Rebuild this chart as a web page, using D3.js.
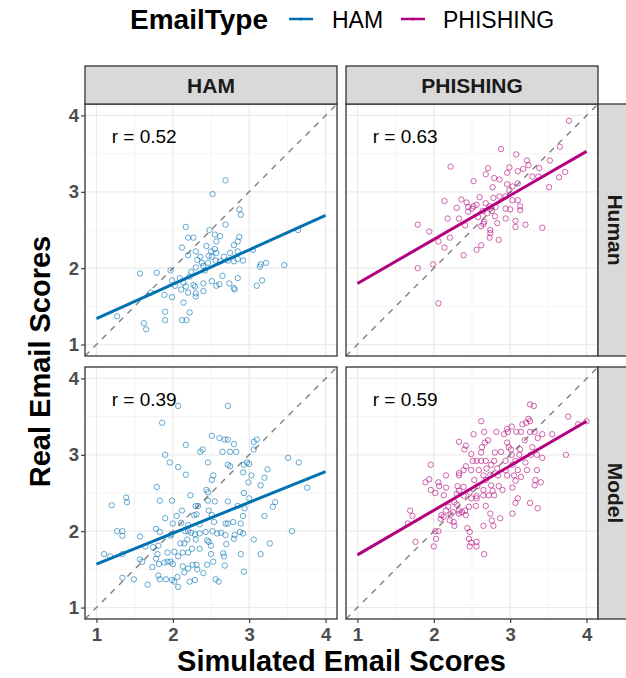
<!DOCTYPE html>
<html>
<head>
<meta charset="utf-8">
<script src="https://cdn.jsdelivr.net/npm/d3@7"></script>
<style>
  body { margin: 0; background: #fff; }
  svg { font-family: "Liberation Sans", Arial, sans-serif; }
</style>
</head>
<body>
<div id="vis"></div>
<script>
// facets
const emailTypes = ["HAM", "PHISHING"]
const sources = ["Human", "Model"]
const typeColors = ["#0072B2", "#B4007D"]
const ticks = [1, 2, 3, 4]
const rLabels = [["r = 0.52", "r = 0.63"], ["r = 0.39", "r = 0.59"]]

// fitted lines read at x = 1 and x = 4  [y at 1, y at 4]
const fitHamHuman = [1.34, 2.69]
const fitPhishHuman = [1.80, 3.53]
const fitHamModel = [1.57, 2.78]
const fitPhishModel = [1.69, 3.44]

// [simulated, real]
const hamHuman = [
  [2.69,3.15],[2.52,2.97],[2.87,2.77],[2.89,2.70],[2.69,2.57],[2.17,2.54],[2.48,2.50],[2.55,2.44],
  [2.62,2.42],[2.20,2.40],[2.27,2.40],[2.87,2.41],[2.85,2.35],[2.57,2.35],[2.12,2.27],[2.44,2.29],
  [2.80,2.30],[2.30,2.22],[2.20,2.17],[2.50,2.22],[2.57,2.20],[2.47,2.16],[2.51,2.15],[2.67,2.15],
  [2.75,2.20],[2.85,2.22],[3.05,2.24],[2.32,2.11],[2.38,2.07],[2.46,2.07],[2.56,2.10],[2.62,2.09],
  [2.72,2.10],[2.80,2.09],[2.92,2.10],[2.85,2.12],[2.30,2.01],[2.40,2.03],[2.42,1.97],[3.22,2.07],
  [3.15,2.05],[3.14,2.02],[3.46,2.04],[3.64,2.50],[1.57,1.93],[1.79,1.94],[1.97,1.97],[2.24,1.95],
  [2.22,1.89],[1.99,1.84],[2.09,1.87],[2.14,1.81],[2.03,1.77],[2.11,1.72],[2.17,1.76],[2.20,1.68],
  [2.27,1.78],[2.29,1.76],[2.30,1.67],[2.30,1.63],[2.40,1.80],[2.40,1.70],[2.51,1.83],[2.57,1.77],
  [2.61,1.79],[2.65,1.90],[2.74,1.80],[2.80,1.74],[2.81,1.72],[2.85,1.87],[3.10,1.77],[3.17,1.84],
  [1.71,1.68],[1.89,1.65],[1.99,1.62],[2.14,1.55],[1.90,1.43],[1.90,1.32],[2.22,1.42],[2.12,1.32],
  [2.18,1.32],[1.27,1.37],[1.62,1.28],[1.65,1.20],[2.55,2.25],[2.36,2.15]
]

const phishHuman = [
  [3.77,3.93],[2.88,3.56],[3.08,3.49],[3.22,3.41],[3.52,3.41],[3.65,3.59],[2.22,3.33],[2.71,3.31],
  [2.99,3.32],[3.17,3.30],[3.24,3.35],[3.38,3.31],[3.72,3.26],[3.64,3.19],[2.68,3.23],[2.96,3.25],
  [3.10,3.27],[3.29,3.20],[3.37,3.20],[2.79,3.18],[2.86,3.16],[2.52,3.14],[2.96,3.10],[3.03,3.07],
  [3.10,3.11],[2.77,3.06],[3.51,3.06],[2.99,3.02],[2.14,2.88],[2.36,2.90],[2.43,2.86],[2.60,2.93],
  [2.78,2.92],[2.86,2.94],[2.94,2.94],[3.03,2.89],[3.10,2.89],[2.30,2.79],[2.45,2.80],[2.52,2.81],
  [2.56,2.83],[2.68,2.85],[2.73,2.81],[2.81,2.80],[2.94,2.78],[3.00,2.77],[3.13,2.81],[3.13,2.76],
  [2.45,2.74],[2.64,2.75],[2.76,2.75],[2.80,2.68],[2.58,2.67],[2.18,2.65],[2.33,2.65],[2.94,2.65],
  [3.07,2.62],[2.66,2.61],[2.83,2.59],[2.41,2.56],[2.62,2.55],[2.65,2.58],[3.07,2.54],[3.20,2.57],
  [3.42,2.53],[1.79,2.57],[2.74,2.50],[1.94,2.48],[2.74,2.46],[2.73,2.40],[2.21,2.40],[2.85,2.37],
  [2.06,2.35],[2.14,2.27],[2.62,2.30],[2.56,2.24],[2.39,2.17],[1.99,2.05],[1.79,2.00],[2.06,1.54],
  [2.70,2.72],[2.50,2.78]
]

const hamModel = [
  [2.72,3.64],[2.07,3.64],[1.86,3.42],[2.51,3.25],[2.61,3.22],[2.68,3.20],[2.72,3.20],[2.80,3.14],
  [3.10,3.20],[3.06,3.17],[2.17,3.13],[2.36,3.04],[2.39,3.07],[2.65,3.04],[2.75,3.04],[2.83,3.04],
  [3.06,3.07],[1.90,3.00],[1.96,2.90],[2.46,2.90],[2.07,2.84],[2.72,2.87],[2.75,2.85],[2.97,2.90],
  [3.00,2.88],[2.93,2.87],[2.92,2.77],[3.51,2.96],[3.65,2.90],[3.24,2.81],[2.17,2.74],[2.53,2.73],
  [3.03,2.73],[3.20,2.70],[2.51,2.67],[2.99,2.64],[3.15,2.60],[1.79,2.58],[2.44,2.54],[2.46,2.51],
  [3.76,2.57],[2.23,2.47],[2.93,2.50],[1.83,2.40],[1.99,2.40],[2.46,2.40],[2.55,2.39],[2.72,2.39],
  [3.00,2.43],[3.34,2.38],[3.31,2.32],[1.39,2.44],[1.40,2.38],[1.20,2.34],[2.12,2.27],[2.30,2.33],
  [2.33,2.33],[2.47,2.27],[2.85,2.33],[2.94,2.30],[2.05,2.20],[2.28,2.21],[2.31,2.22],[2.51,2.21],
  [2.92,2.20],[3.20,2.20],[1.90,2.17],[2.11,2.11],[2.35,2.09],[2.54,2.12],[2.69,2.10],[2.72,2.10],
  [2.79,2.12],[2.89,2.10],[2.20,2.08],[2.00,2.10],[1.78,2.03],[1.27,2.00],[1.34,2.00],[1.34,1.94],
  [1.83,1.99],[1.98,1.96],[2.16,2.00],[2.20,2.00],[2.24,1.98],[2.29,1.96],[2.35,1.97],[2.43,1.99],
  [2.52,2.00],[2.58,1.97],[2.63,1.98],[2.69,1.95],[2.81,1.95],[2.88,1.99],[2.92,1.97],[2.80,1.90],
  [3.56,2.00],[1.57,1.93],[1.97,1.94],[2.19,1.89],[2.30,1.89],[2.45,1.88],[2.47,1.86],[2.70,1.83],
  [3.06,1.89],[3.27,1.84],[1.64,1.80],[1.74,1.79],[1.81,1.81],[2.10,1.84],[2.15,1.84],[2.25,1.77],
  [2.35,1.77],[2.50,1.81],[1.10,1.70],[1.18,1.67],[1.34,1.70],[1.80,1.70],[1.93,1.72],[2.02,1.73],
  [2.07,1.67],[2.13,1.72],[2.20,1.72],[2.50,1.70],[2.66,1.71],[2.67,1.67],[2.89,1.70],[3.15,1.70],
  [1.57,1.63],[1.60,1.60],[1.78,1.64],[1.89,1.59],[1.93,1.60],[1.97,1.60],[2.00,1.57],[1.82,1.57],
  [1.73,1.53],[2.13,1.54],[2.20,1.51],[2.26,1.56],[2.31,1.56],[2.32,1.50],[2.45,1.56],[2.53,1.60],
  [2.68,1.55],[2.93,1.47],[1.34,1.39],[1.49,1.37],[1.81,1.42],[1.83,1.37],[1.91,1.37],[1.99,1.36],
  [2.06,1.40],[2.15,1.46],[2.22,1.34],[2.29,1.36],[1.67,1.30],[2.02,1.34],[2.07,1.27],[2.56,1.37],
  [2.60,1.34],[2.40,1.45]
]

const phishModel = [
  [3.26,3.66],[3.31,3.64],[3.24,3.47],[3.26,3.44],[3.21,3.42],[3.16,3.40],[3.76,3.50],[3.89,3.40],
  [4.00,3.44],[2.62,3.44],[3.02,3.37],[2.96,3.34],[2.66,3.30],[2.82,3.30],[2.52,3.27],[2.92,3.27],
  [2.97,3.30],[3.08,3.30],[3.14,3.30],[3.26,3.30],[3.32,3.30],[3.42,3.27],[3.55,3.27],[3.36,3.22],
  [2.71,3.19],[2.67,3.16],[2.33,3.17],[2.96,3.16],[3.19,3.19],[2.40,3.07],[2.42,3.12],[2.63,3.10],
  [2.98,3.10],[3.01,3.07],[3.13,3.07],[3.29,3.10],[2.49,3.01],[2.62,3.03],[2.80,3.03],[2.88,3.04],
  [3.02,3.00],[3.12,3.00],[3.27,3.00],[3.35,3.00],[3.73,3.00],[2.51,2.92],[2.56,2.92],[2.62,2.92],
  [2.68,2.92],[2.79,2.92],[2.94,2.92],[3.07,2.92],[3.42,2.96],[1.96,2.87],[2.75,2.87],[3.03,2.87],
  [3.20,2.90],[2.42,2.85],[2.39,2.80],[2.49,2.80],[2.59,2.80],[2.69,2.82],[2.83,2.82],[2.94,2.80],
  [3.10,2.80],[3.22,2.80],[3.35,2.80],[2.33,2.76],[2.16,2.73],[2.33,2.73],[2.65,2.73],[2.74,2.74],
  [2.84,2.73],[2.96,2.73],[3.05,2.73],[3.14,2.71],[1.94,2.68],[2.53,2.67],[2.68,2.67],[3.07,2.66],
  [3.33,2.67],[3.40,2.64],[1.89,2.64],[2.06,2.64],[2.07,2.59],[2.16,2.57],[2.31,2.59],[2.39,2.58],
  [2.57,2.59],[2.75,2.60],[2.85,2.59],[3.03,2.57],[3.32,2.60],[1.96,2.54],[2.33,2.53],[2.65,2.54],
  [2.77,2.53],[2.90,2.54],[2.02,2.50],[2.13,2.47],[2.30,2.49],[2.39,2.47],[2.47,2.51],[2.56,2.46],
  [2.65,2.47],[2.72,2.47],[2.79,2.47],[2.27,2.38],[2.49,2.43],[2.56,2.43],[3.10,2.43],[3.07,2.37],
  [3.26,2.37],[3.36,2.30],[2.19,2.32],[2.30,2.35],[2.46,2.32],[2.55,2.33],[2.68,2.33],[2.16,2.27],
  [2.25,2.25],[2.33,2.27],[2.37,2.25],[2.41,2.27],[2.10,2.21],[2.22,2.22],[2.33,2.23],[2.42,2.21],
  [2.74,2.23],[3.03,2.23],[1.69,2.27],[1.72,2.20],[1.66,2.10],[2.13,2.19],[2.09,2.16],[2.21,2.14],
  [2.26,2.12],[2.27,2.07],[2.76,2.14],[2.87,2.17],[2.78,2.07],[2.65,2.07],[2.44,2.04],[2.02,2.00],
  [2.06,2.00],[2.47,1.99],[2.03,1.90],[2.46,1.90],[2.49,1.85],[2.56,1.86],[1.76,1.86],[2.00,1.80],
  [2.47,1.80],[2.56,1.80],[2.66,1.70]
]

const panelPoints = [[hamHuman, phishHuman], [hamModel, phishModel]]
const panelFits = [[fitHamHuman, fitPhishHuman], [fitHamModel, fitPhishModel]]

const W = 626, H = 678
const colX = [85, 346]
const rowY = [104, 367]
const panelSize = 252
const stripH = 38
const domain = [0.85, 4.15]

const svg = d3.select("#vis").append("svg")
  .attr("width", W).attr("height", H)

// legend
const legend = svg.append("g")
legend.append("text")
  .attr("x", 130).attr("y", 29)
  .attr("font-size", 28).attr("font-weight", "bold")
  .attr("fill", "#000")
  .text("EmailType")
const legendItems = [
  {name: "HAM", lx: 289, tx: 332},
  {name: "PHISHING", lx: 401, tx: 443}
]
legendItems.forEach((d, i) => {
  legend.append("line")
    .attr("x1", d.lx).attr("x2", d.lx + 24)
    .attr("y1", 19).attr("y2", 19)
    .attr("stroke", typeColors[i]).attr("stroke-width", 2.5)
  legend.append("circle")
    .attr("cx", d.lx + 12).attr("cy", 19).attr("r", 1.6)
    .attr("fill", typeColors[i])
  legend.append("text")
    .attr("x", d.tx).attr("y", 28)
    .attr("font-size", 23).attr("fill", "#000")
    .text(d.name)
})

const x = d3.scaleLinear().domain(domain)
const y = d3.scaleLinear().domain(domain)

sources.forEach((src, r) => {
  emailTypes.forEach((type, c) => {
    const px = colX[c], py = rowY[r]
    const xs = x.copy().range([px, px + panelSize])
    const ys = y.copy().range([py + panelSize, py])
    const g = svg.append("g")
    const clipId = "clip" + r + c
    svg.append("clipPath").attr("id", clipId)
      .append("rect").attr("x", px).attr("y", py)
      .attr("width", panelSize).attr("height", panelSize)

    // grid
    const minor = [1.5, 2.5, 3.5]
    g.selectAll(".minorx").data(minor).enter().append("line")
      .attr("x1", d => xs(d)).attr("x2", d => xs(d))
      .attr("y1", py).attr("y2", py + panelSize)
      .attr("stroke", "#F2F2F2").attr("stroke-width", 0.8)
    g.selectAll(".minory").data(minor).enter().append("line")
      .attr("y1", d => ys(d)).attr("y2", d => ys(d))
      .attr("x1", px).attr("x2", px + panelSize)
      .attr("stroke", "#F2F2F2").attr("stroke-width", 0.8)
    g.selectAll(".gx").data(ticks).enter().append("line")
      .attr("x1", d => xs(d)).attr("x2", d => xs(d))
      .attr("y1", py).attr("y2", py + panelSize)
      .attr("stroke", "#EBEBEB").attr("stroke-width", 1.3)
    g.selectAll(".gy").data(ticks).enter().append("line")
      .attr("y1", d => ys(d)).attr("y2", d => ys(d))
      .attr("x1", px).attr("x2", px + panelSize)
      .attr("stroke", "#EBEBEB").attr("stroke-width", 1.3)

    const inner = g.append("g").attr("clip-path", "url(#" + clipId + ")")

    // identity line
    inner.append("line")
      .attr("x1", xs(domain[0])).attr("y1", ys(domain[0]))
      .attr("x2", xs(domain[1])).attr("y2", ys(domain[1]))
      .attr("stroke", "#7F7F7F").attr("stroke-width", 1.4)
      .attr("stroke-dasharray", "6,6")

    // points
    inner.selectAll("circle").data(panelPoints[r][c]).enter().append("circle")
      .attr("cx", d => xs(d[0])).attr("cy", d => ys(d[1]))
      .attr("r", 2.7)
      .attr("fill", "none")
      .attr("stroke", typeColors[c]).attr("stroke-opacity", 0.6)
      .attr("stroke-width", 1)

    // fitted line
    const fit = panelFits[r][c]
    inner.append("line")
      .attr("x1", xs(1)).attr("y1", ys(fit[0]))
      .attr("x2", xs(4)).attr("y2", ys(fit[1]))
      .attr("stroke", typeColors[c]).attr("stroke-width", 3)

    // r label
    g.append("text")
      .attr("x", xs(1.2)).attr("y", ys(3.73))
      .attr("dy", "0.35em")
      .attr("font-size", 19).attr("fill", "#000")
      .text(rLabels[r][c])

    // border
    g.append("rect")
      .attr("x", px).attr("y", py)
      .attr("width", panelSize).attr("height", panelSize)
      .attr("fill", "none").attr("stroke", "#333").attr("stroke-width", 1.3)

    // axes
    if (c === 0) {
      const ay = svg.append("g").attr("transform", "translate(" + px + ",0)")
        .call(d3.axisLeft(ys).tickValues(ticks).tickSize(4).tickPadding(2).tickFormat(d3.format("d")))
      ay.select(".domain").remove()
      ay.selectAll("line").attr("stroke", "#333").attr("stroke-width", 1.1)
      ay.selectAll("text").attr("font-size", 18.5).attr("font-weight", "bold")
        .attr("fill", "#4D4D4D").attr("font-family", "Liberation Sans, Arial, sans-serif")
    }
    if (r === 1) {
      const ax = svg.append("g").attr("transform", "translate(0," + (py + panelSize) + ")")
        .call(d3.axisBottom(xs).tickValues(ticks).tickSize(4).tickPadding(5).tickFormat(d3.format("d")))
      ax.select(".domain").remove()
      ax.selectAll("line").attr("stroke", "#333").attr("stroke-width", 1.1)
      ax.selectAll("text").attr("font-size", 18.5).attr("font-weight", "bold")
        .attr("fill", "#4D4D4D").attr("font-family", "Liberation Sans, Arial, sans-serif")
    }

    // top strips
    if (r === 0) {
      svg.append("rect")
        .attr("x", px).attr("y", py - stripH)
        .attr("width", panelSize).attr("height", stripH)
        .attr("fill", "#D9D9D9").attr("stroke", "#333").attr("stroke-width", 1.3)
      svg.append("text")
        .attr("x", px + panelSize / 2).attr("y", py - stripH / 2)
        .attr("dy", "0.36em").attr("text-anchor", "middle")
        .attr("font-size", 21).attr("font-weight", "bold").attr("fill", "#1A1A1A")
        .text(type)
    }
    // right strips
    if (c === 1) {
      const sx = px + panelSize
      svg.append("rect")
        .attr("x", sx).attr("y", py)
        .attr("width", stripH).attr("height", panelSize)
        .attr("fill", "#D9D9D9").attr("stroke", "#333").attr("stroke-width", 1.3)
      svg.append("text")
        .attr("transform", "translate(" + (sx + stripH / 2 - 1) + "," + (py + panelSize / 2) + ") rotate(90)")
        .attr("dy", "0.36em").attr("text-anchor", "middle")
        .attr("font-size", 21).attr("font-weight", "bold").attr("fill", "#1A1A1A")
        .text(src)
    }
  })
})

// axis titles
svg.append("text")
  .attr("x", (colX[0] + colX[1] + panelSize) / 2).attr("y", 671)
  .attr("text-anchor", "middle")
  .attr("font-size", 29).attr("font-weight", "bold").attr("fill", "#000")
  .text("Simulated Email Scores")
svg.append("text")
  .attr("transform", "translate(40," + ((rowY[0] + rowY[1] + panelSize) / 2) + ") rotate(-90)")
  .attr("dy", "0.35em")
  .attr("text-anchor", "middle")
  .attr("font-size", 29).attr("font-weight", "bold").attr("fill", "#000")
  .text("Real Email Scores")
</script>
</body>
</html>
